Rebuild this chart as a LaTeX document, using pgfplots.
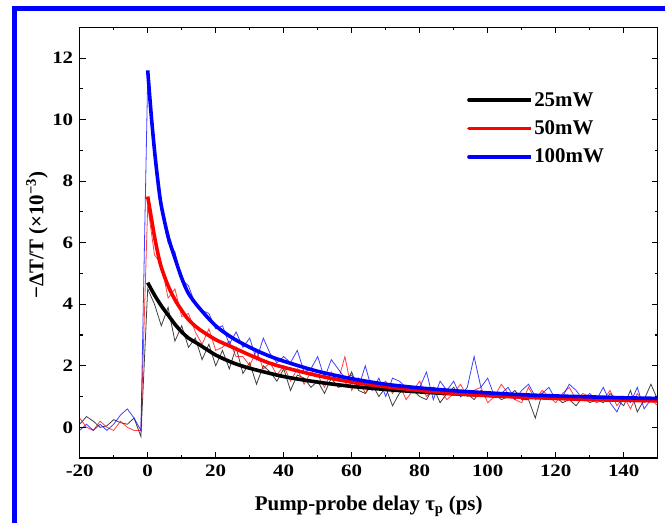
\documentclass[border=0pt]{standalone}
\usepackage{fontspec}
\setmainfont{Liberation Serif}
\newfontfamily\tickfont{Liberation Serif}[FakeStretch=1.2]
\usepackage{pgfplots}
\usepackage{pgfplotstable}
\pgfplotsset{compat=1.18}
\definecolor{myblue}{RGB}{0,0,255}
\definecolor{myred}{RGB}{255,0,0}

\pgfplotstableread{
x y
-20 0.1
-18 0.35
-16 0.2
-14 0.0
-12 0.05
-10 0.25
-8 0.15
-6 0.1
-4 0.3
-2 -0.3
0 4.5
2 4.0
4 3.3
6 3.9
8 2.8
10 3.3
12 2.6
14 2.9
16 2.2
18 2.7
20 2.0
22 2.5
24 1.9
26 2.6
28 1.75
30 2.1
32 1.4
34 2.0
36 1.8
38 1.5
40 1.9
42 1.2
44 1.7
46 1.6
48 1.3
50 1.5
52 1.1
54 1.6
56 1.3
58 1.35
60 1.8
62 1.2
64 1.1
66 1.4
68 1.0
70 1.3
72 0.7
74 1.1
76 1.3
78 1.2
80 1.0
82 0.9
84 1.3
86 0.8
88 1.1
90 1.3
92 1.0
94 1.1
96 0.9
98 1.2
100 1.0
102 1.1
104 0.9
106 1.0
108 1.2
110 0.9
112 0.9
114 0.3
116 1.1
118 0.9
120 1.0
122 0.8
124 0.9
126 0.7
128 1.0
130 0.8
132 0.9
134 0.8
136 1.1
138 0.9
140 0.7
142 1.2
144 0.5
146 0.9
148 1.4
150 0.9
}\rawblack

\pgfplotstableread{
x y
-20 0.3
-18 0.0
-16 -0.1
-14 0.2
-12 0.0
-10 -0.1
-8 0.2
-6 0.0
-4 -0.1
-2 -0.1
0 7.2
2 5.6
4 5.3
6 4.2
8 4.5
10 3.6
12 3.7
14 3.1
16 2.7
18 3.2
20 2.5
22 2.6
24 2.8
26 2.3
28 2.3
30 2.0
32 2.5
34 1.9
36 2.1
38 1.7
40 2.0
42 1.5
44 1.9
46 1.4
48 1.8
50 1.7
52 1.3
54 1.8
56 1.5
58 2.3
60 1.2
62 1.6
64 1.1
66 1.5
68 1.3
70 1.5
72 1.1
74 1.4
76 0.9
78 1.2
80 1.5
82 1.0
84 1.3
86 1.2
88 0.9
90 1.1
92 1.4
94 1.0
96 1.2
98 1.3
100 0.8
102 1.0
104 1.4
106 1.1
108 0.9
110 0.8
112 1.3
114 0.9
116 1.2
118 1.0
120 0.8
122 1.1
124 1.3
126 0.9
128 1.1
130 1.0
132 0.8
134 0.9
136 1.2
138 0.7
140 1.0
142 0.6
144 1.1
146 0.8
148 0.9
150 0.7
}\rawred

\pgfplotstableread{
x y
-20 -0.1
-18 0.1
-16 -0.1
-14 0.1
-12 -0.1
-10 0.1
-8 0.4
-6 0.6
-4 0.3
-2 -0.1
0 11.4
2 8.9
4 7.2
6 6.0
8 5.7
10 4.8
12 4.6
14 4.0
16 3.8
18 3.7
20 3.2
22 3.3
24 2.7
26 3.1
28 2.6
30 2.9
32 2.2
34 2.9
36 2.4
38 2.1
40 2.3
42 2.1
44 2.5
46 1.8
48 1.9
50 2.3
52 1.6
54 2.2
56 1.9
58 1.6
60 1.7
62 1.3
64 2.0
66 1.2
68 1.6
70 1.0
72 1.6
74 1.5
76 1.3
78 1.2
80 1.3
82 1.8
84 0.9
86 1.5
88 1.2
90 1.5
92 1.0
94 1.3
96 2.3
98 1.3
100 1.6
102 1.0
104 1.1
106 1.3
108 0.9
110 1.2
112 1.4
114 1.0
116 1.1
118 1.3
120 0.9
122 1.0
124 1.4
126 1.2
128 0.9
130 1.1
132 0.9
134 1.3
136 0.8
138 0.5
140 1.0
142 0.8
144 1.3
146 0.6
148 0.9
150 0.8
}\rawblue

\pgfplotstableread{
x y
0 4.7
2 4.3
4 3.95
6 3.65
8 3.35
10 3.1
12 2.9
15 2.7
20 2.35
25 2.1
30 1.92
40 1.65
50 1.47
60 1.33
70 1.23
80 1.15
90 1.09
100 1.04
110 1.0
120 0.96
130 0.93
140 0.91
150 0.89
}\fitblack

\pgfplotstableread{
x y
0 7.5
1 6.85
2 6.2
3 5.65
4 5.2
6 4.6
8 4.15
10 3.8
12 3.5
15 3.2
20 2.85
25 2.6
30 2.35
35 2.12
40 1.95
50 1.68
60 1.47
70 1.32
80 1.2
90 1.1
100 1.03
110 0.98
120 0.94
130 0.9
140 0.88
150 0.86
}\fitred

\pgfplotstableread{
x y
0 11.6
1 10.2
2 9.0
3 8.0
4 7.2
6 6.2
8 5.5
10 4.85
12 4.35
15 3.9
20 3.3
25 2.9
30 2.6
35 2.35
40 2.15
50 1.82
60 1.58
70 1.40
80 1.28
90 1.19
100 1.12
110 1.06
120 1.02
130 0.99
140 0.96
150 0.94
}\fitblue

\begin{document}
\begin{tikzpicture}
\begin{axis}[
  scale only axis,
  width=578bp, height=430.8bp,
  at={(0,0)}, anchor=south west,
  xmin=-20, xmax=150, ymin=-1, ymax=13,
  xtick={-20,0,...,140}, ytick={0,2,...,12},
  minor x tick num=1, minor y tick num=1,
  tick align=inside,
  major tick length=6bp, minor tick length=3bp,
  axis line style={line width=1.3bp},
  every tick/.style={black, line width=1.1bp},
  /pgf/number format/assume math mode=true,
  tick label style={font=\tickfont\bfseries\fontsize{17.5}{17.5}\selectfont},
  xticklabel style={anchor=north, yshift=-3bp},
  yticklabel style={anchor=east, xshift=-3bp},
  xlabel={Pump-probe delay τ\textsubscript{p} (ps)},
  ylabel={−ΔT/T (×10\textsuperscript{−3})},
  every axis x label/.style={at={(axis description cs:0.5,-0.1205)}, anchor=base, font=\bfseries\fontsize{21}{21}\selectfont},
  every axis y label/.style={at={(axis description cs:-0.074,0.518)}, anchor=center, rotate=90, font=\bfseries\fontsize{21}{21}\selectfont},
  legend style={draw=none, fill=none, at={(axis description cs:0.67,0.853)}, anchor=north west,
    font=\bfseries\fontsize{21}{21}\selectfont, row sep=10bp, inner sep=0pt,
    nodes={inner sep=1.5bp}},
  legend cell align=left,
  legend image code/.code={\draw[#1, line cap=round] (0bp,0bp) -- (55bp,0bp); \path (0bp,0bp) -- (62bp,0bp);},
]
\addplot[black, line width=0.8bp, opacity=0.75, forget plot] table {\rawblack};
\addplot[myred, line width=0.8bp, opacity=0.75, forget plot] table {\rawred};
\addplot[myblue, line width=0.8bp, opacity=0.75, forget plot] table {\rawblue};
\addplot[black, line width=3.6bp, smooth] table {\fitblack};
\addplot[myred, line width=3.6bp, smooth] table {\fitred};
\addplot[myblue, line width=3.6bp, smooth] table {\fitblue};
\legend{25mW, 50mW, 100mW}
\end{axis}
\draw[myblue, line width=5.5bp] (-65.2bp,-70bp) -- (-65.2bp,449.6bp) -- (600bp,449.6bp);
\pgfresetboundingbox
\path[use as bounding box] (-79.7bp,-64.9bp) rectangle (585.3bp,458.1bp);
\end{tikzpicture}
\end{document}
